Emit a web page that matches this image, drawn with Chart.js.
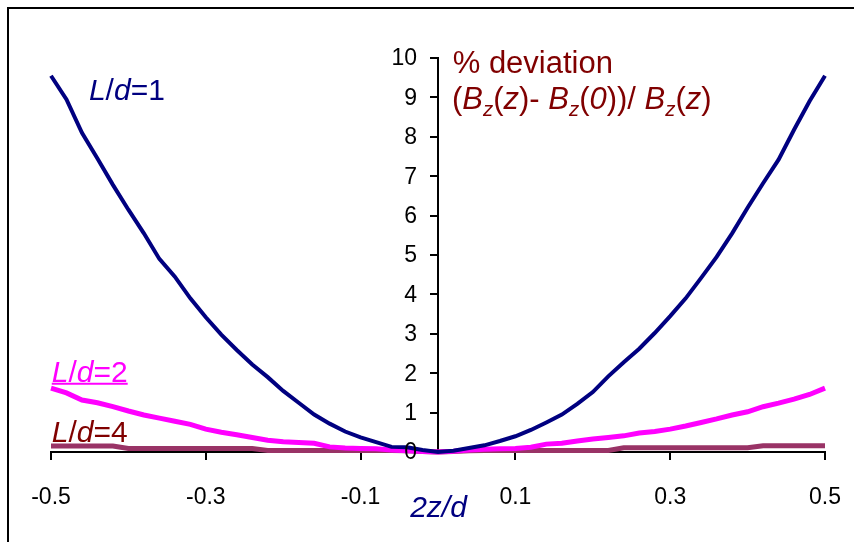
<!DOCTYPE html>
<html>
<head>
<meta charset="utf-8">
<script src="https://cdn.jsdelivr.net/npm/chart.js@4.4.0/dist/chart.umd.min.js"></script>
<style>
body { margin: 0; background: #fff; }
canvas { display: block; }
</style>
</head>
<body>
<canvas id="mycanvas" width="854" height="542"></canvas>
<script>
// 2z/d positions
var zValues = [-0.5, -0.48, -0.46, -0.44, -0.42, -0.4, -0.38, -0.36, -0.34, -0.32,
  -0.3, -0.28, -0.26, -0.24, -0.22, -0.2, -0.18, -0.16, -0.14, -0.12,
  -0.1, -0.08, -0.06, -0.04, -0.02, 0, 0.02, 0.04, 0.06, 0.08,
  0.1, 0.12, 0.14, 0.16, 0.18, 0.2, 0.22, 0.24, 0.26, 0.28,
  0.3, 0.32, 0.34, 0.36, 0.38, 0.4, 0.42, 0.44, 0.46, 0.48, 0.5];

// % deviation, L/d = 1
var ld1 = [9.55, 8.95, 8.1, 7.45, 6.78, 6.15, 5.55, 4.9, 4.45, 3.9,
  3.42, 2.98, 2.59, 2.22, 1.9, 1.55, 1.25, 0.95, 0.72, 0.52,
  0.37, 0.25, 0.13, 0.12, 0.05, 0, 0.03, 0.1, 0.17, 0.28,
  0.4, 0.56, 0.75, 0.95, 1.22, 1.52, 1.92, 2.28, 2.62, 3.02,
  3.45, 3.9, 4.42, 4.95, 5.55, 6.2, 6.82, 7.42, 8.18, 8.9, 9.55];

// L/d = 2
var ld2 = [1.62, 1.5, 1.32, 1.25, 1.15, 1.04, 0.94, 0.86, 0.78, 0.7,
  0.58, 0.5, 0.44, 0.37, 0.3, 0.26, 0.24, 0.22, 0.13, 0.1,
  0.09, 0.08, 0.05, 0.03, 0.01, 0, 0.02, 0.05, 0.07, 0.08,
  0.09, 0.12, 0.2, 0.22, 0.28, 0.33, 0.37, 0.41, 0.48, 0.52,
  0.58, 0.66, 0.75, 0.84, 0.94, 1.02, 1.15, 1.24, 1.34, 1.46, 1.62];

// L/d = 4
var ld4 = [0.15, 0.15, 0.15, 0.15, 0.15, 0.09, 0.09, 0.09, 0.09, 0.09,
  0.09, 0.09, 0.09, 0.09, 0.04, 0.04, 0.04, 0.04, 0.04, 0.04,
  0.04, 0.04, 0.04, 0.03, 0.01, 0, 0.01, 0.03, 0.04, 0.04,
  0.04, 0.04, 0.04, 0.04, 0.04, 0.04, 0.04, 0.11, 0.11, 0.11,
  0.11, 0.11, 0.11, 0.11, 0.11, 0.11, 0.16, 0.16, 0.16, 0.16, 0.16];

var xTicks = [-0.5, -0.3, -0.1, 0.1, 0.3, 0.5];
var yTicks = [0, 1, 2, 3, 4, 5, 6, 7, 8, 9, 10];

var FONT = 'Arial, "Liberation Sans", sans-serif';

function pts(ys) {
  var out = [];
  for (var i = 0; i < zValues.length; i++) out.push({x: zValues[i], y: ys[i]});
  return out;
}

// draw text made of pieces (italic / subscript)
function drawRich(ctx, x, y, parts, size, color) {
  ctx.fillStyle = color;
  ctx.textAlign = 'left';
  ctx.textBaseline = 'alphabetic';
  parts.forEach(function(p) {
    var s = p.sub ? size * 0.66 : size;
    ctx.font = (p.i ? 'italic ' : '') + s + 'px ' + FONT;
    ctx.fillText(p.t, x, y + (p.sub ? size * 0.22 : 0));
    x += ctx.measureText(p.t).width;
  });
  return x;
}

var labelsPlugin = {
  id: 'labels',
  afterDraw: function(chart) {
    var ctx = chart.ctx;
    var xs = chart.scales.x, ys = chart.scales.y;
    ctx.save();

    // frame
    ctx.strokeStyle = '#000';
    ctx.lineWidth = 2;
    ctx.strokeRect(8, 8, 900, 600);

    // y tick labels, left of the centred axis
    var axisX = xs.getPixelForValue(0);
    ctx.fillStyle = '#000';
    ctx.font = '23px ' + FONT;
    ctx.textAlign = 'right';
    ctx.textBaseline = 'middle';
    ys.ticks.forEach(function(t) {
      ctx.fillText(String(t.value), axisX - 21, ys.getPixelForValue(t.value) + 1);
    });

    var x, end;
    drawRich(ctx, xs.getPixelForValue(-0.451), ys.getPixelForValue(8.93),
      [{t: 'L', i: true}, {t: '/'}, {t: 'd', i: true}, {t: '=1'}], 30, '#000080');

    x = xs.getPixelForValue(-0.499);
    end = drawRich(ctx, x, ys.getPixelForValue(1.78),
      [{t: 'L', i: true}, {t: '/'}, {t: 'd', i: true}, {t: '=2'}], 30, '#ff00ff');
    ctx.strokeStyle = '#ff00ff';
    ctx.beginPath();
    ctx.moveTo(x, ys.getPixelForValue(1.78) + 2);
    ctx.lineTo(end, ys.getPixelForValue(1.78) + 2);
    ctx.stroke();

    drawRich(ctx, x, ys.getPixelForValue(0.25),
      [{t: 'L', i: true}, {t: '/'}, {t: 'd', i: true}, {t: '=4'}], 30, '#800000');

    drawRich(ctx, xs.getPixelForValue(0.019), ys.getPixelForValue(9.62),
      [{t: '% deviation'}], 31, '#800000');
    drawRich(ctx, xs.getPixelForValue(0.018), ys.getPixelForValue(8.7),
      [{t: '('}, {t: 'B', i: true}, {t: 'z', i: true, sub: true}, {t: '('}, {t: 'z', i: true}, {t: ')- '},
       {t: 'B', i: true}, {t: 'z', i: true, sub: true}, {t: '('}, {t: '0', i: true}, {t: '))/ '},
       {t: 'B', i: true}, {t: 'z', i: true, sub: true}, {t: '('}, {t: 'z', i: true}, {t: ')'}], 31, '#800000');

    // axis title
    drawRich(ctx, xs.getPixelForValue(-0.036), chart.chartArea.bottom + 65,
      [{t: '2z/d', i: true}], 30, '#000080');

    ctx.restore();
  }
};

var ctx = document.getElementById('mycanvas');

var chart = new Chart(ctx, {
  type: 'line',
  data: {
    datasets: [
      {label: 'L/d=1', data: pts(ld1), borderColor: '#000080', borderWidth: 4, pointRadius: 0, tension: 0, clip: 8},
      {label: 'L/d=2', data: pts(ld2), borderColor: '#ff00ff', borderWidth: 5, pointRadius: 0, tension: 0, clip: 8},
      {label: 'L/d=4', data: pts(ld4), borderColor: '#993366', borderWidth: 5, pointRadius: 0, tension: 0, clip: 8}
    ]
  },
  options: {
    responsive: false,
    animation: false,
    layout: {padding: {left: 51, right: 29, top: 58, bottom: 0}},
    plugins: {legend: {display: false}, tooltip: {enabled: false}},
    scales: {
      x: {
        type: 'linear', min: -0.5, max: 0.5, position: 'bottom',
        afterBuildTicks: function(s) { s.ticks = xTicks.map(function(v) { return {value: v}; }); },
        afterFit: function(s) { s.height = 90; s.paddingLeft = 0; s.paddingRight = 0; },
        border: {display: true, color: '#000', width: 2},
        grid: {drawOnChartArea: false, drawTicks: true, tickLength: 8, color: '#000', lineWidth: 2},
        ticks: {color: '#000', font: {size: 23, family: FONT}, padding: 24, maxRotation: 0, autoSkip: false,
          callback: function(v) { return v.toFixed(1); }}
      },
      y: {
        type: 'linear', min: 0, max: 10, position: {x: 0},
        afterBuildTicks: function(s) { s.ticks = yTicks.map(function(v) { return {value: v}; }); },
        afterFit: function(s) { s.width = 0; s.paddingTop = 0; s.paddingBottom = 0; },
        border: {display: true, color: '#000', width: 2},
        grid: {drawOnChartArea: false, drawTicks: true, tickLength: 7, color: '#000', lineWidth: 2},
        ticks: {display: false}
      }
    }
  },
  plugins: [labelsPlugin]
});
</script>
</body>
</html>
